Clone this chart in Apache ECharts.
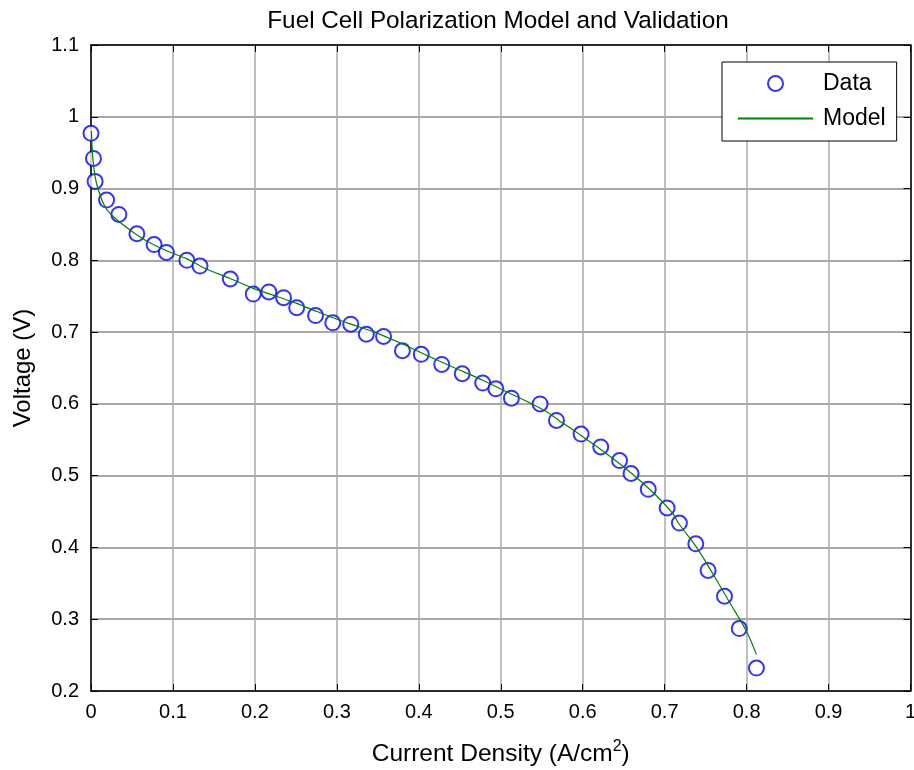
<!DOCTYPE html>
<html>
<head>
<meta charset="utf-8">
<script src="https://cdn.jsdelivr.net/npm/echarts@6/dist/echarts.min.js"></script>
<style>html,body{margin:0;padding:0;background:#fff;overflow:hidden}#c{width:914px;height:770px}</style>
</head>
<body>
<div id="c"></div>
<script>
var dataX = [0.000,0.003,0.005,0.019,0.034,0.056,0.077,0.092,0.117,0.133,0.170,0.198,0.217,0.235,0.251,0.274,0.295,0.317,0.336,0.357,0.380,0.403,0.428,0.453,0.478,0.494,0.513,0.548,0.568,0.598,0.622,0.645,0.659,0.680,0.703,0.718,0.738,0.753,0.773,0.791,0.812];
var dataY = [0.977,0.942,0.910,0.884,0.864,0.837,0.822,0.811,0.800,0.792,0.774,0.753,0.756,0.748,0.734,0.723,0.713,0.711,0.697,0.694,0.674,0.669,0.655,0.642,0.629,0.621,0.608,0.600,0.577,0.558,0.540,0.521,0.503,0.481,0.455,0.434,0.405,0.368,0.332,0.287,0.232];
var modelX = [0.0005,0.002,0.005,0.009,0.017,0.027,0.048,0.068,0.093,0.117,0.139,0.169,0.198,0.226,0.251,0.275,0.300,0.320,0.348,0.381,0.409,0.442,0.478,0.503,0.531,0.556,0.571,0.598,0.625,0.649,0.670,0.690,0.710,0.718,0.739,0.759,0.779,0.800,0.812];
var modelY = [0.980,0.945,0.917,0.898,0.875,0.861,0.842,0.827,0.813,0.802,0.789,0.775,0.761,0.750,0.740,0.729,0.718,0.710,0.699,0.683,0.668,0.651,0.633,0.619,0.604,0.589,0.577,0.556,0.534,0.513,0.493,0.472,0.447,0.432,0.400,0.363,0.324,0.283,0.251];
var titleText = 'Fuel Cell Polarization Model and Validation';
var xName = 'Current Density (A/cm{sup|2})';
var yName = 'Voltage (V)';
var seriesNames = ['Data', 'Model'];

var FONT = '"Liberation Sans", Arial, Helvetica, sans-serif';
var chart = echarts.init(document.getElementById('c'), null, {renderer: 'canvas'});
var dataPts = dataX.map(function (x, i) { return [x, dataY[i]]; });
var modelPts = modelX.map(function (x, i) { return [x, modelY[i]]; });

var axisLine = {show: true, onZero: false, lineStyle: {color: '#000', width: 1.5}};
var tick = {show: true, inside: true, length: 7, lineStyle: {color: '#000', width: 1}};

chart.setOption({
  animation: false,
  backgroundColor: '#fff',
  textStyle: {fontFamily: FONT},
  title: {
    text: titleText, left: 493, textAlign: 'center', top: 4,
    textStyle: {fontFamily: FONT, fontSize: 24.3, fontWeight: 'normal', color: '#000'}
  },
  grid: {left: 91, right: 3.5, top: 45, bottom: 79, containLabel: false, outerBoundsMode: 'none'},
  legend: {
    data: [{name: seriesNames[0]}, {name: seriesNames[1], itemStyle: {opacity: 0}}],
    orient: 'vertical', left: 722, top: 62,
    backgroundColor: '#fff', borderColor: '#000', borderWidth: 1,
    padding: [10, 11, 11, 15], itemGap: 12, itemWidth: 75, itemHeight: 15,
    textStyle: {fontFamily: FONT, fontSize: 23, color: '#000', padding: [2, 0, 0, 5]}
  },
  xAxis: [{
    type: 'value', min: 0, max: 1, interval: 0.1, position: 'bottom',
    name: xName, nameLocation: 'middle', nameGap: 48,
    nameTextStyle: {fontFamily: FONT, fontSize: 24.5, color: '#000', lineHeight: 30,
      rich: {sup: {fontFamily: FONT, fontSize: 16, color: '#000', verticalAlign: 'top', lineHeight: 16}}},
    axisLine: axisLine, axisTick: tick,
    axisLabel: {fontFamily: FONT, fontSize: 20, color: '#000', margin: 11},
    splitLine: {show: true, lineStyle: {color: '#ababab', width: 1.5}}
  }, {
    type: 'value', min: 0, max: 1, interval: 0.1, position: 'top',
    axisLine: axisLine, axisTick: tick, axisLabel: {show: false}, splitLine: {show: false}
  }],
  yAxis: [{
    type: 'value', min: 0.2, max: 1.1, interval: 0.1, position: 'left',
    name: yName, nameLocation: 'middle', nameGap: 56,
    nameTextStyle: {fontFamily: FONT, fontSize: 24, color: '#000'},
    axisLine: axisLine, axisTick: tick,
    axisLabel: {fontFamily: FONT, fontSize: 20, color: '#000', margin: 12},
    splitLine: {show: true, lineStyle: {color: '#8a8a8a', width: 1.5}}
  }, {
    type: 'value', min: 0.2, max: 1.1, interval: 0.1, position: 'right',
    axisLine: axisLine, axisTick: tick, axisLabel: {show: false}, splitLine: {show: false}
  }],
  series: [{
    name: 'Data', type: 'scatter', data: dataPts,
    symbol: 'emptyCircle', symbolSize: 15,
    itemStyle: {color: '#0000ff', borderColor: '#0000ff', borderWidth: 1.3},
    z: 3
  }, {
    name: 'Model', type: 'line', data: modelPts, smooth: 0.3,
    showSymbol: false, symbol: 'none',
    lineStyle: {color: '#008000', width: 1.2},
    itemStyle: {color: '#008000'},
    z: 4
  }]
});
</script>
</body>
</html>
